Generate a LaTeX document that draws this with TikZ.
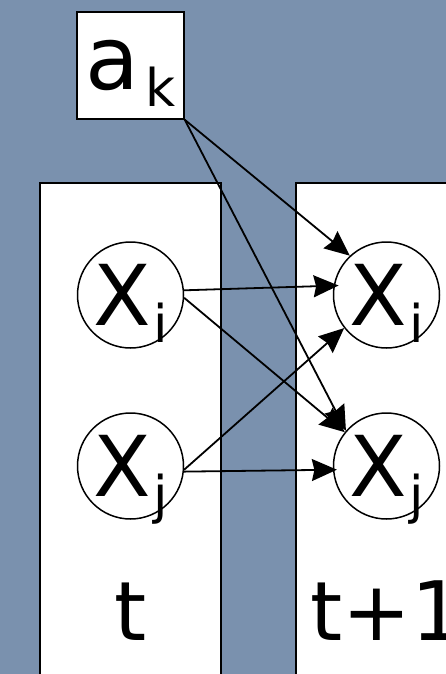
\documentclass[tikz,border=0pt]{standalone}
\usepackage{fontspec}
\setmainfont{DejaVu Sans}
\usetikzlibrary{arrows.meta}
\definecolor{bgblue}{RGB}{122,145,174}
\newcommand{\bigtext}[1]{{\fontsize{84}{84}\selectfont #1}}
\newcommand{\subtext}[1]{{\fontsize{52}{52}\selectfont\raisebox{-17pt}[0pt][0pt]{#1}}}
\tikzset{
  panelfill/.style={fill=white},
  paneledge/.style={draw=black, line width=2pt},
  var/.style={circle, draw=black, fill=white, line width=1.5pt, inner sep=0pt, minimum size=106pt},
  actbox/.style={draw=black, fill=white, line width=1.5pt, inner sep=0pt, minimum size=107pt},
  edge/.style={line width=1.8pt, -{Stealth[length=25pt, width=22pt, inset=2.5pt]}},
  timelabel/.style={anchor=base, inner sep=0pt}
}
\begin{document}
\begin{tikzpicture}[x=1pt, y=-1pt]
  \clip (0,0) rectangle (446,674);
  \fill[bgblue] (0,0) rectangle (446,674);
  % time slices
  \fill[panelfill] (40,183) rectangle (221,683);
  \fill[panelfill] (296,183) rectangle (456,683);
  \draw[paneledge] (40,683) -- (40,183) -- (221,183) -- (221,683);
  \draw[paneledge] (296,683) -- (296,183) -- (456,183);
  % action and state variables
  \node[actbox] (a) at (130.5,65.5) {{\fontsize{88}{88}\selectfont a}\hspace{6pt}\subtext{k}};
  \node[var] (li) at (130.5,295) {\bigtext{X}\hspace{3pt}\subtext{i}};
  \node[var] (lj) at (130.5,466) {\bigtext{X}\hspace{3pt}\subtext{j}};
  \node[var] (ri) at (386.5,295) {\bigtext{X}\hspace{3pt}\subtext{i}};
  \node[var] (rj) at (386.5,466) {\bigtext{X}\hspace{3pt}\subtext{j}};
  \node[timelabel] (t0) at (130.5,640) {\fontsize{82}{82}\selectfont t};
  \node[timelabel, anchor=base west] (t1) at (310,640) {\fontsize{82}{82}\selectfont t+1};
  % dependencies
  \draw[edge] (a.south east) -- (ri.133);
  \draw[edge] (a.south east) -- (rj.139);
  \draw[edge, shorten >=-5pt] (li.5) -- (ri.170);
  \draw[edge] (li.-3) -- (rj.141);
  \draw[edge] (lj.-4) -- (ri.218);
  \draw[edge, shorten >=-4pt] (lj.-6) -- (rj.184);
\end{tikzpicture}
\end{document}
